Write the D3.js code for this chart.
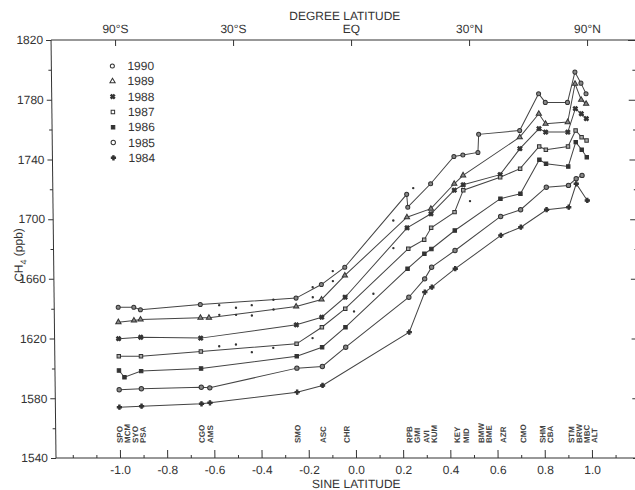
<!DOCTYPE html>
<html><head><meta charset="utf-8">
<script src="https://cdn.jsdelivr.net/npm/d3@7"></script>
<style>
body{margin:0;background:#fff;}
svg{display:block;font-family:"Liberation Sans",Arial,Helvetica,sans-serif;}
</style></head><body>
<svg id="c" width="635" height="490"></svg>
<script>
// ---------- data ----------
const stations = ["SPO","MCM","SYO","PSA","CGO","AMS","SMO","ASC","CHR","RPB","GMI","AVI","KUM","KEY","MID","BMW","BME","AZR","CMO","SHM","CBA","STM","BRW","MBC","ALT"];
const sineLat  = [-1.0,-0.977,-0.934,-0.906,-0.652,-0.616,-0.246,-0.138,-0.038,0.228,0.232,0.300,0.330,0.430,0.468,0.532,0.536,0.625,0.710,0.792,0.820,0.914,0.947,0.972,0.993];
const N = null;
const years = [1990,1989,1988,1987,1986,1985,1984];
const ch4_1990 = [1641.0,N,1641.0,1639.3,1642.8,N,1647.1,1656.2,1667.8,1716.6,1708.0,N,1723.7,1742.0,1743.0,1744.7,1756.8,N,1759.4,1784.0,1778.2,1778.2,1798.5,1791.1,1784.0];
const ch4_1989 = [1631.0,N,1632.1,1632.8,1633.9,1633.9,1641.5,1646.2,1662.3,1701.3,N,N,1707.0,1723.7,1729.3,N,N,N,1754.9,1770.6,1763.9,1765.0,1790.7,1780.0,1777.3];
const ch4_1988 = [1619.9,N,N,1620.9,1620.3,N,1629.2,1634.3,1647.7,1694.2,N,N,1703.6,1719.4,1723.0,N,N,1729.8,1747.2,1760.6,1758.3,1758.3,1774.0,1770.6,1767.3];
const ch4_1987 = [1608.2,N,N,1608.2,1611.4,N,1616.5,1627.6,1640.0,N,1680.2,1686.2,1694.2,1704.7,1719.4,N,N,1728.1,1733.8,1748.7,1746.5,1748.7,1759.4,1754.9,1752.7];
const ch4_1986 = [1598.6,1594.1,N,1598.2,1600.0,N,1608.2,1614.2,1627.6,1666.8,N,1676.8,1680.0,1692.4,N,N,N,1713.7,1717.0,1739.8,1737.1,1735.3,1751.6,1746.5,1741.5];
const ch4_1985 = [1585.7,N,N,1586.4,1587.4,1587.0,1600.2,1601.3,1614.2,N,1647.7,1660.0,1667.8,1679.0,N,N,N,1701.8,1706.3,N,1721.4,1722.6,1727.1,1729.3,N];
const ch4_1984 = [1574.0,N,N,1574.7,1576.3,1577.0,1584.1,1588.6,N,N,1624.3,1651.1,1654.4,1666.8,N,N,N,1689.1,1694.6,N,1706.3,1708.0,1723.7,N,1712.5];
const seriesValues = [ch4_1990,ch4_1989,ch4_1988,ch4_1987,ch4_1986,ch4_1985,ch4_1984];
// unconnected ship samples
const shipSine = [-0.572,-0.501,-0.434,-0.572,-0.501,-0.434,-0.574,-0.503,-0.436,-0.342,-0.342,-0.345,-0.175,-0.175,-0.178,-0.089,-0.089,-0.001,0.082,0.170,0.169,0.256,0.496];
const shipCH4  = [1642.4,1640.6,1642.4,1635.9,1635.9,1635.5,1614.9,1616.0,1610.9,1646.0,1639.5,1613.8,1654.4,1647.7,1620.3,1665.2,1658.5,1638.2,1650.0,1699.1,1680.6,1720.8,1712.1];
// axes
const yMajor = [1540,1580,1620,1660,1700,1740,1780,1820];
const yMinor = [1560,1600,1640,1680,1720,1760,1800];
const xMajor = [-1.0,-0.8,-0.6,-0.4,-0.2,0.0,0.2,0.4,0.6,0.8,1.0];
const xMinor = [-1.2,-1.1,-0.9,-0.7,-0.5,-0.3,-0.1,0.1,0.3,0.5,0.7,0.9,1.1];
const topTicks = [-1,-0.5,0,0.5,1];
const topLabels = ["90°S","30°S","EQ","30°N","90°N"];

// ---------- layout ----------
const ink = "#333";
const L = 56, R = 641, T = 40, B = 458;
const x = d3.scaleLinear().domain([-1,1]).range([120,592]);
const y = d3.scaleLinear().domain([1540,1820]).range([B,T]);
const svg = d3.select("#c");
// slight scan skew of the reference
const g = svg.append("g").attr("transform",`translate(0,${B}) skewX(0.68) translate(0,${-B})`);

// frame
g.append("line").attr("x1",L).attr("x2",L).attr("y1",T).attr("y2",B).attr("stroke",ink);
g.append("line").attr("x1",L).attr("x2",R).attr("y1",T).attr("y2",T).attr("stroke",ink);
g.append("line").attr("x1",L).attr("x2",R).attr("y1",B).attr("y2",B).attr("stroke",ink);
g.append("line").attr("x1",R).attr("x2",R).attr("y1",T).attr("y2",B).attr("stroke",ink);

// left axis
const la = g.append("g").attr("transform",`translate(${L},0)`)
  .call(d3.axisLeft(y).tickValues(yMajor).tickSize(5).tickPadding(3).tickFormat(d3.format("d")));
la.select(".domain").remove();
const lm = g.append("g").attr("transform",`translate(${L},0)`)
  .call(d3.axisLeft(y).tickValues(yMinor).tickSize(3).tickFormat(""));
lm.select(".domain").remove();
// right axis (inward ticks)
const ra = g.append("g").attr("transform",`translate(${R},0)`)
  .call(d3.axisLeft(y).tickValues(yMajor).tickSize(8).tickFormat(""));
ra.select(".domain").remove();
const rm = g.append("g").attr("transform",`translate(${R},0)`)
  .call(d3.axisLeft(y).tickValues(yMinor).tickSize(4).tickFormat(""));
rm.select(".domain").remove();

// bottom axis (ticks pointing up)
const ba = g.append("g").attr("transform",`translate(0,${B})`)
  .call(d3.axisBottom(x).tickValues(xMajor).tickSizeInner(-8).tickSizeOuter(0).tickPadding(7).tickFormat(d => d.toFixed(1)));
ba.select(".domain").remove();
const bm = g.append("g").attr("transform",`translate(0,${B})`)
  .call(d3.axisBottom(x).tickValues(xMinor).tickSizeInner(-3).tickSizeOuter(0).tickFormat(""));
bm.select(".domain").remove();

// top axis (ticks pointing down)
const ta = g.append("g").attr("transform",`translate(0,${T})`)
  .call(d3.axisTop(x).tickValues(topTicks).tickSizeInner(-6).tickSizeOuter(0).tickPadding(7).tickFormat((d,i)=>topLabels[i]));
ta.select(".domain").remove();

g.selectAll(".tick line").attr("stroke",ink);
g.selectAll(".tick text").attr("fill",ink).style("font-size","12px").style("font-family","'Liberation Sans',Arial,sans-serif");

// titles
g.append("text").attr("x",350).attr("y",20).attr("text-anchor","middle").attr("fill",ink)
  .style("font-size","12px").text("DEGREE LATITUDE");
g.append("text").attr("x",356).attr("y",488).attr("text-anchor","middle").attr("fill",ink)
  .style("font-size","12px").text("SINE LATITUDE");
const yl = g.append("text").attr("transform","translate(25,255) rotate(-90)").attr("text-anchor","middle")
  .attr("fill",ink).style("font-size","12px");
yl.append("tspan").text("CH");
yl.append("tspan").attr("dy",4).style("font-size","9px").text("4");
yl.append("tspan").attr("dy",-4).text(" (ppb)");

// station labels (rotated, spread so they don't collide)
const lab = stations.map((s,i)=>({s, px:x(sineLat[i])})).sort((a,b)=>a.px-b.px);
const gap = 7.6;
for (let i=1;i<lab.length;i++) if (lab[i].px < lab[i-1].px+gap) lab[i].px = lab[i-1].px+gap;
for (let iter=0;iter<30;iter++){
  for (let i=0;i<lab.length;i++){
    const t = x(sineLat[stations.indexOf(lab[i].s)]);
    let lo = i>0 ? lab[i-1].px+gap : -1e9, hi = i<lab.length-1 ? lab[i+1].px-gap : 1e9;
    lab[i].px = Math.max(lo, Math.min(hi, lab[i].px + (t-lab[i].px)*0.5));
  }
}
g.append("g").selectAll("text").data(lab).join("text")
  .attr("transform",d=>`translate(${d.px},443) rotate(-90)`)
  .attr("dy","0.35em").attr("fill","#444").style("font-size","8px").style("font-weight","bold")
  .text(d=>d.s);

// series
const symTypes = [d3.symbolCircle,d3.symbolTriangle,d3.symbolCross,d3.symbolSquare,d3.symbolSquare,d3.symbolCircle,d3.symbolCross];
const symFill  = ["#fff","#fff",ink,"#fff",ink,"#fff",ink];
const plotFill = ["#888","#888",ink,"#aaa",ink,"#888",ink];
const symRot   = [0,0,45,0,0,0,0];
const symSize  = [13,12,12,12,12,15,10];
const line = d3.line().defined(d=>d.v!=null).x(d=>x(d.s)).y(d=>y(d.v));
years.forEach((yr,k)=>{
  const pts = seriesValues[k].map((v,i)=>({s:sineLat[i],v})).filter(d=>d.v!=null);
  g.append("path").datum(pts).attr("d",line).attr("fill","none").attr("stroke","#444").attr("stroke-width",1);
  g.append("g").selectAll("path").data(pts).join("path")
    .attr("transform",d=>`translate(${x(d.s)},${y(d.v)}) rotate(${symRot[k]})`)
    .attr("d",d3.symbol().type(symTypes[k]).size(symSize[k]))
    .attr("fill",plotFill[k]).attr("stroke",ink).attr("stroke-width",1);
});
// ship samples
g.append("g").selectAll("circle").data(shipSine.map((s,i)=>({s,v:shipCH4[i]}))).join("circle")
  .attr("cx",d=>x(d.s)).attr("cy",d=>y(d.v)).attr("r",1.2).attr("fill",ink);

// legend
const lg = g.append("g");
years.forEach((yr,k)=>{
  const yy = 66 + k*15.3;
  lg.append("path").attr("transform",`translate(117,${yy}) rotate(${symRot[k]})`)
    .attr("d",d3.symbol().type(symTypes[k]).size(symSize[k]))
    .attr("fill",symFill[k]).attr("stroke",ink).attr("stroke-width",1);
  lg.append("text").attr("x",132).attr("y",yy).attr("dy","0.35em").attr("fill",ink)
    .style("font-size","12px").text(yr);
});
</script>
</body></html>
